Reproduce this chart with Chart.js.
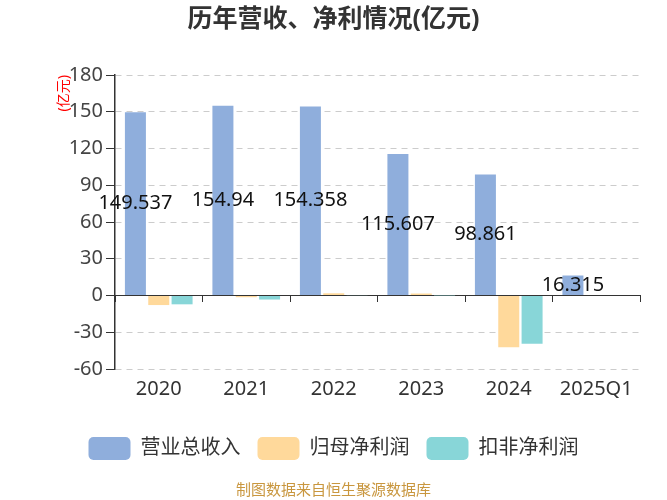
<!DOCTYPE html>
<html>
<head>
<meta charset="utf-8">
<script src="https://cdn.jsdelivr.net/npm/chart.js@4/dist/chart.umd.min.js"></script>
<style>
  html, body { margin: 0; padding: 0; background: #fff; }
  #wrap { width: 667px; height: 500px; }
</style>
</head>
<body>
<div id="wrap"><canvas id="c" width="667" height="500"></canvas></div>
<script>
// Annual figures, unit: 亿元
const years = ['2020', '2021', '2022', '2023', '2024', '2025Q1'];
const revenue = [149.537, 154.94, 154.358, 115.607, 98.861, 16.315];
const netProfit = [-7.8, -1.4, 1.8, 1.6, -42.2, null];
const netProfitExcl = [-7.2, -3.3, -0.3, -0.1, -39.4, null];
const yTicks = { min: -60, max: 180, step: 30 };

const FONT = "'Noto Sans', 'Noto Sans CJK SC', sans-serif";

// Value labels centred inside the revenue bars
const barValueLabels = {
  id: 'barValueLabels',
  afterDatasetsDraw(chart) {
    const ctx = chart.ctx;
    const meta = chart.getDatasetMeta(0);
    ctx.save();
    ctx.font = '20px ' + FONT;
    ctx.fillStyle = '#111';
    ctx.textAlign = 'center';
    ctx.textBaseline = 'middle';
    meta.data.forEach((bar, i) => {
      const v = chart.data.datasets[0].data[i];
      if (v == null) return;
      ctx.fillText(String(v), bar.x, (bar.y + bar.base) / 2);
    });
    ctx.restore();
  }
};

// Unit caption beside the top of the value axis
const unitCaption = {
  id: 'unitCaption',
  afterDraw(chart) {
    const { ctx, chartArea } = chart;
    ctx.save();
    ctx.translate(chartArea.left - 51, chartArea.top);
    ctx.rotate(-Math.PI / 2);
    ctx.font = '14px ' + FONT;
    ctx.fillStyle = '#ff0000';
    ctx.textAlign = 'right';
    ctx.textBaseline = 'middle';
    ctx.fillText('(亿元)', 0, 0);
    ctx.restore();
  }
};

new Chart(document.getElementById('c'), {
  type: 'bar',
  data: {
    labels: years,
    datasets: [
      { label: '营业总收入', data: revenue, backgroundColor: '#8FAEDC' },
      { label: '归母净利润', data: netProfit, backgroundColor: '#FFD99B' },
      { label: '扣非净利润', data: netProfitExcl, backgroundColor: '#88D6D8' }
    ]
  },
  options: {
    responsive: false,
    animation: false,
    categoryPercentage: 0.8,
    barPercentage: 0.9,
    layout: { padding: { left: 27, right: 27, top: 0, bottom: 0 } },
    scales: {
      x: {
        position: { y: 0 },
        offset: true,
        grid: { display: true, offset: true, drawOnChartArea: false, drawTicks: true, tickLength: 6, tickColor: '#333' },
        border: { display: true, color: '#333', width: 1 },
        ticks: { display: false }
      },
      x2: {
        type: 'category',
        position: 'bottom',
        offset: true,
        grid: { display: false },
        border: { display: false },
        ticks: { color: '#333', font: { size: 20, family: FONT }, padding: 0, autoSkip: false, maxRotation: 0 },
        afterFit(scale) { scale.height += 19; }
      },
      y: {
        min: yTicks.min,
        max: yTicks.max,
        grid: { color: '#cccccc', tickColor: '#333', tickLength: 9, tickBorderDash: [] },
        border: { display: true, color: '#333', width: 1.5, dash: [6, 5] },
        ticks: { stepSize: yTicks.step, color: '#444', font: { size: 20, family: FONT }, padding: 3 },
        afterFit(scale) { scale.width = 88; }
      }
    },
    plugins: {
      title: {
        display: true,
        text: '历年营收、净利情况(亿元)',
        color: '#333',
        font: { size: 25, weight: 'bold', family: FONT },
        padding: { top: 5, bottom: 40 }
      },
      subtitle: {
        display: true,
        position: 'bottom',
        text: '制图数据来自恒生聚源数据库',
        color: '#C9973F',
        font: { size: 15, family: FONT },
        padding: { top: 12, bottom: 0 }
      },
      legend: {
        position: 'bottom',
        labels: {
          boxWidth: 42,
          boxHeight: 23,
          useBorderRadius: true,
          borderRadius: 5,
          color: '#333',
          padding: 17,
          font: { size: 20, family: FONT }
        }
      },
      tooltip: { enabled: false }
    }
  },
  plugins: [barValueLabels, unitCaption]
});
</script>
</body>
</html>
